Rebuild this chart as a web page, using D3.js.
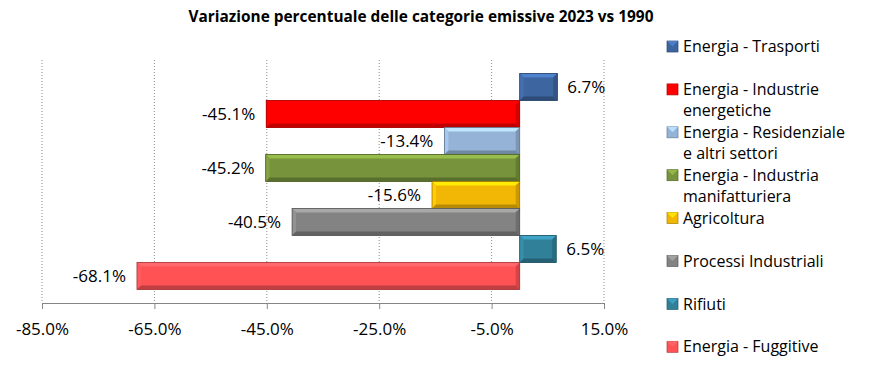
<!DOCTYPE html>
<html>
<head>
<meta charset="utf-8">
<script src="https://cdn.jsdelivr.net/npm/d3@7"></script>
<style>
  body { margin: 0; background: #fff; }
  text { font-family: "Open Sans", "Noto Sans", sans-serif; fill: #000; }
</style>
</head>
<body>
<svg id="graph"></svg>
<script>
// dati
var categorie = ["Energia - Trasporti", "Energia - Industrie energetiche", "Energia - Residenziale e altri settori",
                 "Energia - Industria manifatturiera", "Agricoltura", "Processi Industriali", "Rifiuti", "Energia - Fuggitive"];
var legendaRighe = [["Energia - Trasporti"], ["Energia - Industrie", "energetiche"], ["Energia - Residenziale", "e altri settori"],
                    ["Energia - Industria", "manifatturiera"], ["Agricoltura"], ["Processi Industriali"], ["Rifiuti"], ["Energia - Fuggitive"]];
var valori = [6.7, -45.1, -13.4, -45.2, -15.6, -40.5, 6.5, -68.1];
var colori = ["#3d65a0", "#ff0000", "#95b3d7", "#77933c", "#f2b705", "#838383", "#31809a", "#ff5255"];
var tickValori = [-85, -65, -45, -25, -5, 15];

var W = 878, H = 371;
var margin = {top: 60, left: 42, right: 274, bottom: 68};
var width = W - margin.left - margin.right;
var height = H - margin.top - margin.bottom;

var svg = d3.select("#graph").attr("width", W).attr("height", H);

// titolo
svg.append("text")
    .attr("x", 421).attr("y", 22)
    .attr("text-anchor", "middle")
    .style("font-weight", "bold")
    .style("font-size", "15.4px")
    .text("Variazione percentuale delle categorie emissive 2023 vs 1990");

var g = svg.append("g").attr("transform", "translate(" + margin.left + "," + margin.top + ")");

var xScale = d3.scaleLinear().domain([-85, 15]).range([0, width]);
var yScale = d3.scaleBand().domain(categorie).range([0, height]).paddingInner(0).paddingOuter(0.5);

// griglia
g.selectAll(".grid").data(tickValori).enter().append("line")
    .attr("x1", d => xScale(d)).attr("x2", d => xScale(d))
    .attr("y1", 0).attr("y2", height)
    .attr("stroke", "#8c8c8c").attr("stroke-width", 1)
    .attr("stroke-dasharray", "1,2");

// asse x
var xAxis = d3.axisBottom(xScale).tickValues(tickValori)
    .tickFormat(d => d.toFixed(1) + "%").tickSize(6).tickSizeOuter(0);
var ax = g.append("g").attr("transform", "translate(0," + height + ")").call(xAxis);
ax.select(".domain").attr("stroke", "#868686");
ax.selectAll(".tick line").attr("stroke", "#868686");
ax.selectAll(".tick text").attr("y", 32).attr("dy", "0").style("font-size", "17px")
    .style("font-family", "'Open Sans', sans-serif").attr("fill", "#000");

// barre con effetto smussato
var bev = 4;
categorie.forEach(function(c, i) {
    var v = valori[i];
    var x0 = Math.min(xScale(0), xScale(v));
    var x1 = Math.max(xScale(0), xScale(v));
    var y0 = yScale(c), y1 = y0 + yScale.bandwidth();
    var col = d3.color(colori[i]);
    var bar = g.append("g");
    bar.append("rect").attr("x", x0).attr("y", y0).attr("width", x1 - x0).attr("height", y1 - y0)
        .attr("fill", col);
    // bordo superiore chiaro
    bar.append("polygon").attr("points", [[x0, y0], [x1, y0], [x1 - bev, y0 + bev], [x0 + bev, y0 + bev]].join(" "))
        .attr("fill", col.brighter(0.7));
    // bordo sinistro
    bar.append("polygon").attr("points", [[x0, y0], [x0 + bev, y0 + bev], [x0 + bev, y1 - bev], [x0, y1]].join(" "))
        .attr("fill", col.brighter(0.3));
    // bordo destro
    bar.append("polygon").attr("points", [[x1, y0], [x1 - bev, y0 + bev], [x1 - bev, y1 - bev], [x1, y1]].join(" "))
        .attr("fill", col.darker(0.5));
    // bordo inferiore scuro
    bar.append("polygon").attr("points", [[x0, y1], [x0 + bev, y1 - bev], [x1 - bev, y1 - bev], [x1, y1]].join(" "))
        .attr("fill", col.darker(0.8));
    bar.append("rect").attr("x", x0).attr("y", y0).attr("width", x1 - x0).attr("height", y1 - y0)
        .attr("fill", "none").attr("stroke", col.darker(1.2)).attr("stroke-width", 0.8);

    // etichetta
    g.append("text")
        .attr("x", v >= 0 ? x1 + 10 : x0 - 11)
        .attr("y", y0 + yScale.bandwidth() / 2)
        .attr("dy", "0.36em")
        .attr("text-anchor", v >= 0 ? "start" : "end")
        .style("font-size", "17px")
        .text(v.toFixed(1) + "%");
});

// legenda
var legY0 = 46.5, legStep = 42.9;
legendaRighe.forEach(function(righe, i) {
    var y = legY0 + i * legStep;
    var col = d3.color(colori[i]);
    svg.append("rect").attr("x", 667).attr("y", y - 5.5).attr("width", 11).attr("height", 11)
        .attr("fill", col).attr("stroke", col.darker(1)).attr("stroke-width", 0.7);
    svg.append("polygon").attr("points", [[667, y - 5.5], [678, y - 5.5], [672.5, y]].join(" "))
        .attr("fill", col.brighter(0.6));
    righe.forEach(function(r, j) {
        svg.append("text").attr("x", 683).attr("y", y + j * 21).attr("dy", "0.35em")
            .style("font-size", "16px").text(r);
    });
});
</script>
</body>
</html>
